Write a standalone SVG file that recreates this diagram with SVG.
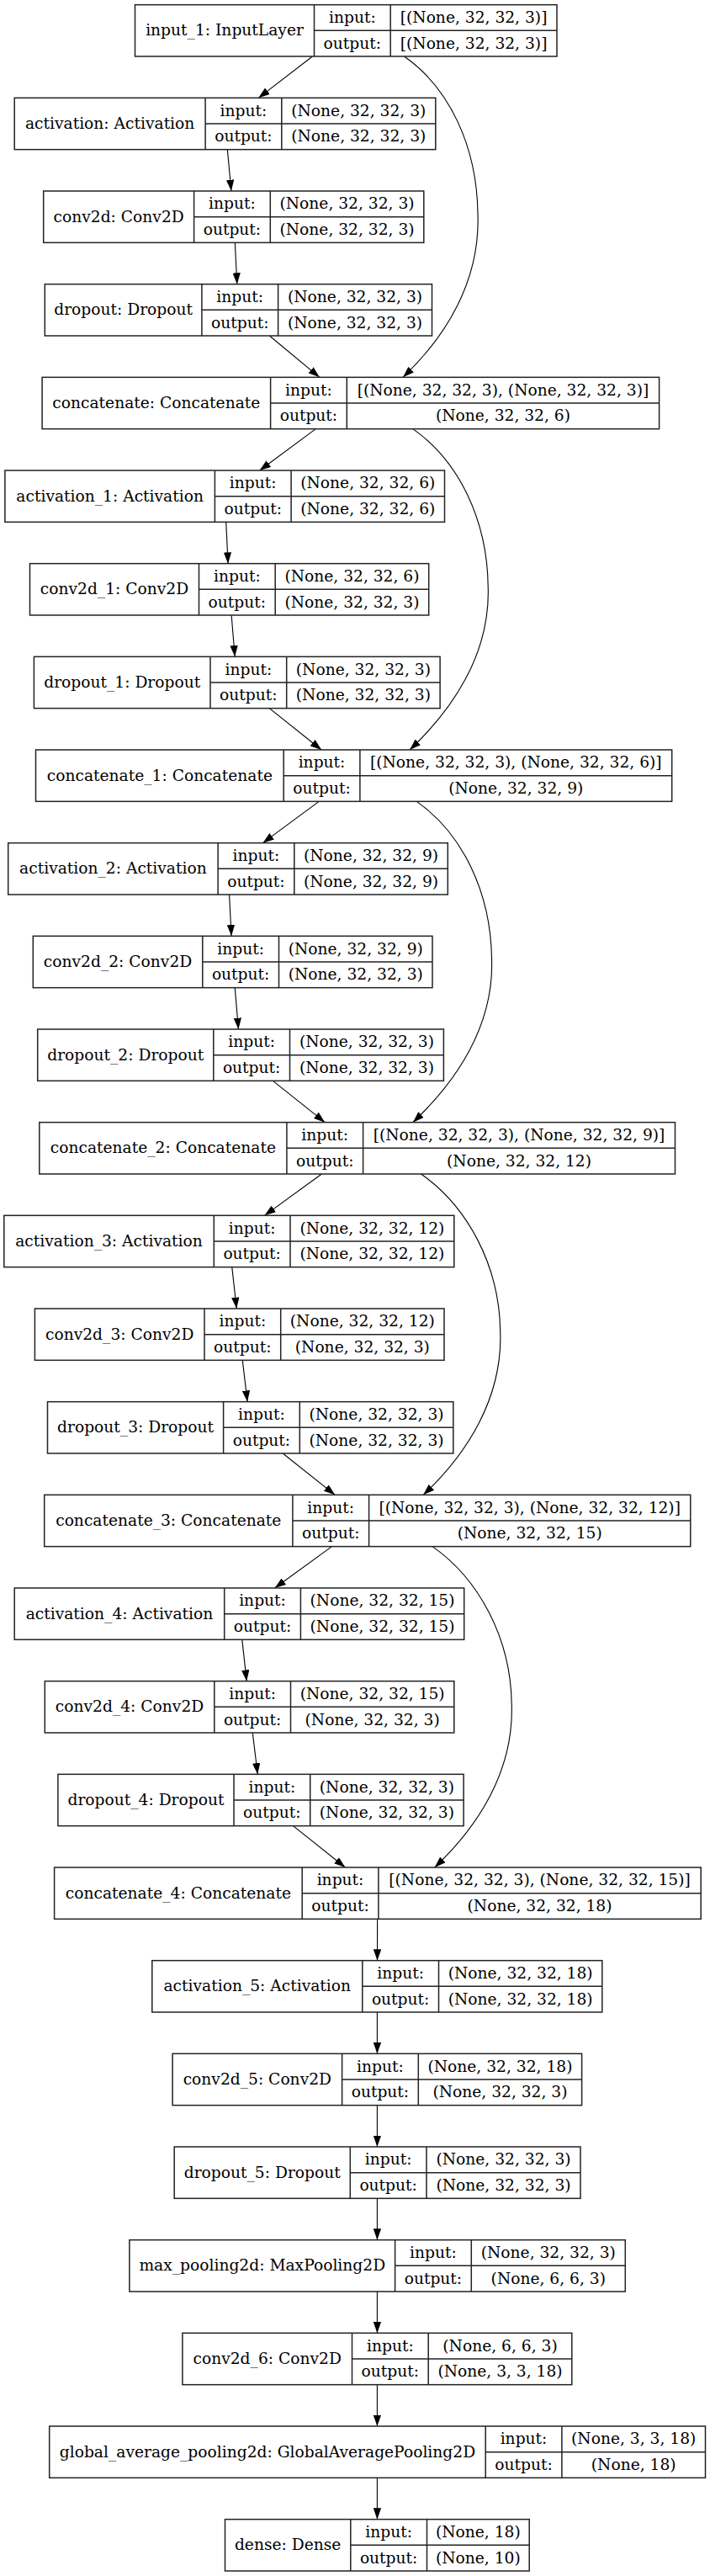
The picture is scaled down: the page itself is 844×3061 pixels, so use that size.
<svg xmlns="http://www.w3.org/2000/svg" width="844" height="3061" viewBox="0 0 844 3061">
<style>
.b{fill:#fff;stroke:#222;stroke-width:1.5}
.d{fill:none;stroke:#222;stroke-width:1.5}
text{font-family:"DejaVu Serif","Liberation Serif",serif;font-size:18.67px;fill:#000;text-anchor:middle}
.e{fill:none;stroke:#000;stroke-width:1.1;marker-end:url(#ah)}
</style>
<defs>
<marker id="ah" markerUnits="userSpaceOnUse" viewBox="0 0 13.33 9.33" refX="13.33" refY="4.67" markerWidth="13.33" markerHeight="9.33" orient="auto">
<path d="M0,0L13.33,4.67L0,9.33z" fill="#000"/>
</marker>
</defs>
<rect width="844" height="3061" fill="#fff"/>
<g id="edges">
<path class="e" d="M371.42,67L307.33,116.33"/>
<path class="e" d="M270.34,177.67L274.91,227"/>
<path class="e" d="M279.32,288.33L281.83,337.67"/>
<path class="e" d="M320.38,399L379.87,448.33"/>
<path class="e" d="M480.5,67C535,105 567,175 568,254C571,334 530,400 479,448.33"/>
<path class="e" d="M375.38,509.67L308.67,559"/>
<path class="e" d="M268.7,620.33L271.1,669.67"/>
<path class="e" d="M275.14,731L279.21,780.33"/>
<path class="e" d="M320.23,841.67L382.12,891"/>
<path class="e" d="M490.8,509.67C545.3,547.7 579.2,617.7 580.2,696.7C583.2,776.7 538.1,843 487.1,891"/>
<path class="e" d="M379.15,952.33L312.45,1001.67"/>
<path class="e" d="M272.57,1063L275.08,1112.33"/>
<path class="e" d="M279.25,1173.67L283.45,1223"/>
<path class="e" d="M324.46,1284.33L386.24,1333.67"/>
<path class="e" d="M495.2,952.33C549.7,990.3 583.5,1060.3 584.5,1139.3C587.5,1219.3 541.8,1285.7 490.8,1333.67"/>
<path class="e" d="M382.43,1395L314.52,1444.33"/>
<path class="e" d="M275.74,1505.67L281.26,1555"/>
<path class="e" d="M288.29,1616.33L294.06,1665.67"/>
<path class="e" d="M336.2,1727L398.21,1776.33"/>
<path class="e" d="M500.5,1395C555,1433 593.7,1503 594.7,1582C597.7,1662 554.2,1728.3 503.2,1776.33"/>
<path class="e" d="M394.55,1837.67L326.65,1887"/>
<path class="e" d="M287.8,1948.33L293.2,1997.67"/>
<path class="e" d="M300.28,2059L306.27,2108.33"/>
<path class="e" d="M348.49,2169.67L410.41,2219"/>
<path class="e" d="M514,1837.67C568.5,1875.7 607.2,1945.7 608.2,2024.7C611.2,2104.7 567.7,2171 516.7,2219"/>
<path class="e" d="M448.6,2280.33L448.5,2329.67"/>
<path class="e" d="M448.4,2391L448.4,2440.33"/>
<path class="e" d="M448.4,2501.67L448.4,2551"/>
<path class="e" d="M448.4,2612.33L448.4,2661.67"/>
<path class="e" d="M448.4,2723L448.4,2772.33"/>
<path class="e" d="M448.4,2833.67L448.4,2883"/>
<path class="e" d="M448.4,2944.33L448.4,2993.67"/>
</g>
<g id="input_1" transform="translate(0,5.67)"><rect class="b" x="160.5" y="0" width="501.5" height="61.33"/><path class="d" d="M373.5,0V61.33M464.2,0V61.33M373.5,30.67H662"/><text x="267" y="36.67">input_1: InputLayer</text><text x="418.83" y="21.2">input:</text><text x="418.83" y="51.9">output:</text><text x="563.1" y="21.2">[(None, 32, 32, 3)]</text><text x="563.1" y="51.9">[(None, 32, 32, 3)]</text></g>
<g id="activation" transform="translate(0,116.33)"><rect class="b" x="17.2" y="0" width="500.6" height="61.33"/><path class="d" d="M244.1,0V61.33M334.8,0V61.33M244.1,30.67H517.8"/><text x="130.65" y="36.67">activation: Activation</text><text x="289.43" y="21.2">input:</text><text x="289.43" y="51.9">output:</text><text x="426.3" y="21.2">(None, 32, 32, 3)</text><text x="426.3" y="51.9">(None, 32, 32, 3)</text></g>
<g id="conv2d" transform="translate(0,227)"><rect class="b" x="51.7" y="0" width="452.1" height="61.33"/><path class="d" d="M230.6,0V61.33M321.3,0V61.33M230.6,30.67H503.8"/><text x="141.15" y="36.67">conv2d: Conv2D</text><text x="275.93" y="21.2">input:</text><text x="275.93" y="51.9">output:</text><text x="412.55" y="21.2">(None, 32, 32, 3)</text><text x="412.55" y="51.9">(None, 32, 32, 3)</text></g>
<g id="dropout" transform="translate(0,337.67)"><rect class="b" x="53.3" y="0" width="460.2" height="61.33"/><path class="d" d="M239.9,0V61.33M330.6,0V61.33M239.9,30.67H513.5"/><text x="146.6" y="36.67">dropout: Dropout</text><text x="285.23" y="21.2">input:</text><text x="285.23" y="51.9">output:</text><text x="422.05" y="21.2">(None, 32, 32, 3)</text><text x="422.05" y="51.9">(None, 32, 32, 3)</text></g>
<g id="concatenate" transform="translate(0,448.33)"><rect class="b" x="50.1" y="0" width="733.5" height="61.33"/><path class="d" d="M321.6,0V61.33M412.3,0V61.33M321.6,30.67H783.6"/><text x="185.85" y="36.67">concatenate: Concatenate</text><text x="366.93" y="21.2">input:</text><text x="366.93" y="51.9">output:</text><text x="597.95" y="21.2">[(None, 32, 32, 3), (None, 32, 32, 3)]</text><text x="597.95" y="51.9">(None, 32, 32, 6)</text></g>
<g id="activation_1" transform="translate(0,559)"><rect class="b" x="5.9" y="0" width="522.6" height="61.33"/><path class="d" d="M255.4,0V61.33M346.1,0V61.33M255.4,30.67H528.5"/><text x="130.65" y="36.67">activation_1: Activation</text><text x="300.73" y="21.2">input:</text><text x="300.73" y="51.9">output:</text><text x="437.3" y="21.2">(None, 32, 32, 6)</text><text x="437.3" y="51.9">(None, 32, 32, 6)</text></g>
<g id="conv2d_1" transform="translate(0,669.67)"><rect class="b" x="35.5" y="0" width="474.2" height="61.33"/><path class="d" d="M236.5,0V61.33M327.2,0V61.33M236.5,30.67H509.7"/><text x="136" y="36.67">conv2d_1: Conv2D</text><text x="281.83" y="21.2">input:</text><text x="281.83" y="51.9">output:</text><text x="418.45" y="21.2">(None, 32, 32, 6)</text><text x="418.45" y="51.9">(None, 32, 32, 3)</text></g>
<g id="dropout_1" transform="translate(0,780.33)"><rect class="b" x="40.4" y="0" width="482.7" height="61.33"/><path class="d" d="M250,0V61.33M340.7,0V61.33M250,30.67H523.1"/><text x="145.2" y="36.67">dropout_1: Dropout</text><text x="295.33" y="21.2">input:</text><text x="295.33" y="51.9">output:</text><text x="431.9" y="21.2">(None, 32, 32, 3)</text><text x="431.9" y="51.9">(None, 32, 32, 3)</text></g>
<g id="concatenate_1" transform="translate(0,891)"><rect class="b" x="42.5" y="0" width="756.2" height="61.33"/><path class="d" d="M337.2,0V61.33M427.9,0V61.33M337.2,30.67H798.7"/><text x="189.85" y="36.67">concatenate_1: Concatenate</text><text x="382.53" y="21.2">input:</text><text x="382.53" y="51.9">output:</text><text x="613.3" y="21.2">[(None, 32, 32, 3), (None, 32, 32, 6)]</text><text x="613.3" y="51.9">(None, 32, 32, 9)</text></g>
<g id="activation_2" transform="translate(0,1001.67)"><rect class="b" x="9.7" y="0" width="522.6" height="61.33"/><path class="d" d="M259.1,0V61.33M349.8,0V61.33M259.1,30.67H532.3"/><text x="134.4" y="36.67">activation_2: Activation</text><text x="304.43" y="21.2">input:</text><text x="304.43" y="51.9">output:</text><text x="441.05" y="21.2">(None, 32, 32, 9)</text><text x="441.05" y="51.9">(None, 32, 32, 9)</text></g>
<g id="conv2d_2" transform="translate(0,1112.33)"><rect class="b" x="39.3" y="0" width="474.7" height="61.33"/><path class="d" d="M240.8,0V61.33M331.5,0V61.33M240.8,30.67H514"/><text x="140.05" y="36.67">conv2d_2: Conv2D</text><text x="286.13" y="21.2">input:</text><text x="286.13" y="51.9">output:</text><text x="422.75" y="21.2">(None, 32, 32, 9)</text><text x="422.75" y="51.9">(None, 32, 32, 3)</text></g>
<g id="dropout_2" transform="translate(0,1223)"><rect class="b" x="44.7" y="0" width="482.7" height="61.33"/><path class="d" d="M253.8,0V61.33M344.5,0V61.33M253.8,30.67H527.4"/><text x="149.25" y="36.67">dropout_2: Dropout</text><text x="299.13" y="21.2">input:</text><text x="299.13" y="51.9">output:</text><text x="435.95" y="21.2">(None, 32, 32, 3)</text><text x="435.95" y="51.9">(None, 32, 32, 3)</text></g>
<g id="concatenate_2" transform="translate(0,1333.67)"><rect class="b" x="46.8" y="0" width="755.7" height="61.33"/><path class="d" d="M340.9,0V61.33M431.6,0V61.33M340.9,30.67H802.5"/><text x="193.85" y="36.67">concatenate_2: Concatenate</text><text x="386.23" y="21.2">input:</text><text x="386.23" y="51.9">output:</text><text x="617.05" y="21.2">[(None, 32, 32, 3), (None, 32, 32, 9)]</text><text x="617.05" y="51.9">(None, 32, 32, 12)</text></g>
<g id="activation_3" transform="translate(0,1444.33)"><rect class="b" x="4.8" y="0" width="535" height="61.33"/><path class="d" d="M254.3,0V61.33M345,0V61.33M254.3,30.67H539.8"/><text x="129.55" y="36.67">activation_3: Activation</text><text x="299.63" y="21.2">input:</text><text x="299.63" y="51.9">output:</text><text x="442.4" y="21.2">(None, 32, 32, 12)</text><text x="442.4" y="51.9">(None, 32, 32, 12)</text></g>
<g id="conv2d_3" transform="translate(0,1555)"><rect class="b" x="41.4" y="0" width="486.6" height="61.33"/><path class="d" d="M243,0V61.33M333.7,0V61.33M243,30.67H528"/><text x="142.2" y="36.67">conv2d_3: Conv2D</text><text x="288.33" y="21.2">input:</text><text x="288.33" y="51.9">output:</text><text x="430.85" y="21.2">(None, 32, 32, 12)</text><text x="430.85" y="51.9">(None, 32, 32, 3)</text></g>
<g id="dropout_3" transform="translate(0,1665.67)"><rect class="b" x="56.5" y="0" width="482.3" height="61.33"/><path class="d" d="M265.6,0V61.33M356.3,0V61.33M265.6,30.67H538.8"/><text x="161.05" y="36.67">dropout_3: Dropout</text><text x="310.93" y="21.2">input:</text><text x="310.93" y="51.9">output:</text><text x="447.55" y="21.2">(None, 32, 32, 3)</text><text x="447.55" y="51.9">(None, 32, 32, 3)</text></g>
<g id="concatenate_3" transform="translate(0,1776.33)"><rect class="b" x="52.7" y="0" width="768.1" height="61.33"/><path class="d" d="M347.9,0V61.33M438.6,0V61.33M347.9,30.67H820.8"/><text x="200.3" y="36.67">concatenate_3: Concatenate</text><text x="393.23" y="21.2">input:</text><text x="393.23" y="51.9">output:</text><text x="629.7" y="21.2">[(None, 32, 32, 3), (None, 32, 32, 12)]</text><text x="629.7" y="51.9">(None, 32, 32, 15)</text></g>
<g id="activation_4" transform="translate(0,1887)"><rect class="b" x="17.2" y="0" width="534.5" height="61.33"/><path class="d" d="M266.7,0V61.33M357.4,0V61.33M266.7,30.67H551.7"/><text x="141.95" y="36.67">activation_4: Activation</text><text x="312.03" y="21.2">input:</text><text x="312.03" y="51.9">output:</text><text x="454.55" y="21.2">(None, 32, 32, 15)</text><text x="454.55" y="51.9">(None, 32, 32, 15)</text></g>
<g id="conv2d_4" transform="translate(0,1997.67)"><rect class="b" x="53.3" y="0" width="486.5" height="61.33"/><path class="d" d="M254.8,0V61.33M345.5,0V61.33M254.8,30.67H539.8"/><text x="154.05" y="36.67">conv2d_4: Conv2D</text><text x="300.13" y="21.2">input:</text><text x="300.13" y="51.9">output:</text><text x="442.65" y="21.2">(None, 32, 32, 15)</text><text x="442.65" y="51.9">(None, 32, 32, 3)</text></g>
<g id="dropout_4" transform="translate(0,2108.33)"><rect class="b" x="68.9" y="0" width="482.2" height="61.33"/><path class="d" d="M278,0V61.33M368.7,0V61.33M278,30.67H551.1"/><text x="173.45" y="36.67">dropout_4: Dropout</text><text x="323.33" y="21.2">input:</text><text x="323.33" y="51.9">output:</text><text x="459.9" y="21.2">(None, 32, 32, 3)</text><text x="459.9" y="51.9">(None, 32, 32, 3)</text></g>
<g id="concatenate_4" transform="translate(0,2219)"><rect class="b" x="64.6" y="0" width="768.6" height="61.33"/><path class="d" d="M359.2,0V61.33M449.9,0V61.33M359.2,30.67H833.2"/><text x="211.9" y="36.67">concatenate_4: Concatenate</text><text x="404.53" y="21.2">input:</text><text x="404.53" y="51.9">output:</text><text x="641.55" y="21.2">[(None, 32, 32, 3), (None, 32, 32, 15)]</text><text x="641.55" y="51.9">(None, 32, 32, 18)</text></g>
<g id="activation_5" transform="translate(0,2329.67)"><rect class="b" x="180.8" y="0" width="535" height="61.33"/><path class="d" d="M430.8,0V61.33M521.5,0V61.33M430.8,30.67H715.8"/><text x="305.8" y="36.67">activation_5: Activation</text><text x="476.13" y="21.2">input:</text><text x="476.13" y="51.9">output:</text><text x="618.65" y="21.2">(None, 32, 32, 18)</text><text x="618.65" y="51.9">(None, 32, 32, 18)</text></g>
<g id="conv2d_5" transform="translate(0,2440.33)"><rect class="b" x="205.1" y="0" width="486.5" height="61.33"/><path class="d" d="M406.6,0V61.33M497.3,0V61.33M406.6,30.67H691.6"/><text x="305.85" y="36.67">conv2d_5: Conv2D</text><text x="451.93" y="21.2">input:</text><text x="451.93" y="51.9">output:</text><text x="594.45" y="21.2">(None, 32, 32, 18)</text><text x="594.45" y="51.9">(None, 32, 32, 3)</text></g>
<g id="dropout_5" transform="translate(0,2551)"><rect class="b" x="207.2" y="0" width="482.8" height="61.33"/><path class="d" d="M416.3,0V61.33M507,0V61.33M416.3,30.67H690"/><text x="311.75" y="36.67">dropout_5: Dropout</text><text x="461.63" y="21.2">input:</text><text x="461.63" y="51.9">output:</text><text x="598.5" y="21.2">(None, 32, 32, 3)</text><text x="598.5" y="51.9">(None, 32, 32, 3)</text></g>
<g id="max_pooling2d" transform="translate(0,2661.67)"><rect class="b" x="153.9" y="0" width="589.4" height="61.33"/><path class="d" d="M469.6,0V61.33M560.3,0V61.33M469.6,30.67H743.3"/><text x="311.75" y="36.67">max_pooling2d: MaxPooling2D</text><text x="514.93" y="21.2">input:</text><text x="514.93" y="51.9">output:</text><text x="651.8" y="21.2">(None, 32, 32, 3)</text><text x="651.8" y="51.9">(None, 6, 6, 3)</text></g>
<g id="conv2d_6" transform="translate(0,2772.33)"><rect class="b" x="216.9" y="0" width="462.9" height="61.33"/><path class="d" d="M418.5,0V61.33M509.2,0V61.33M418.5,30.67H679.8"/><text x="317.7" y="36.67">conv2d_6: Conv2D</text><text x="463.83" y="21.2">input:</text><text x="463.83" y="51.9">output:</text><text x="594.5" y="21.2">(None, 6, 6, 3)</text><text x="594.5" y="51.9">(None, 3, 3, 18)</text></g>
<g id="global_average_pooling2d" transform="translate(0,2883)"><rect class="b" x="58.7" y="0" width="779.8" height="61.33"/><path class="d" d="M577.2,0V61.33M667.9,0V61.33M577.2,30.67H838.5"/><text x="317.95" y="36.67">global_average_pooling2d: GlobalAveragePooling2D</text><text x="622.53" y="21.2">input:</text><text x="622.53" y="51.9">output:</text><text x="753.2" y="21.2">(None, 3, 3, 18)</text><text x="753.2" y="51.9">(None, 18)</text></g>
<g id="dense" transform="translate(0,2993.67)"><rect class="b" x="267.5" y="0" width="361.7" height="61.33"/><path class="d" d="M416.8,0V61.33M507.5,0V61.33M416.8,30.67H629.2"/><text x="342.15" y="36.67">dense: Dense</text><text x="462.13" y="21.2">input:</text><text x="462.13" y="51.9">output:</text><text x="568.35" y="21.2">(None, 18)</text><text x="568.35" y="51.9">(None, 10)</text></g>
</svg>
